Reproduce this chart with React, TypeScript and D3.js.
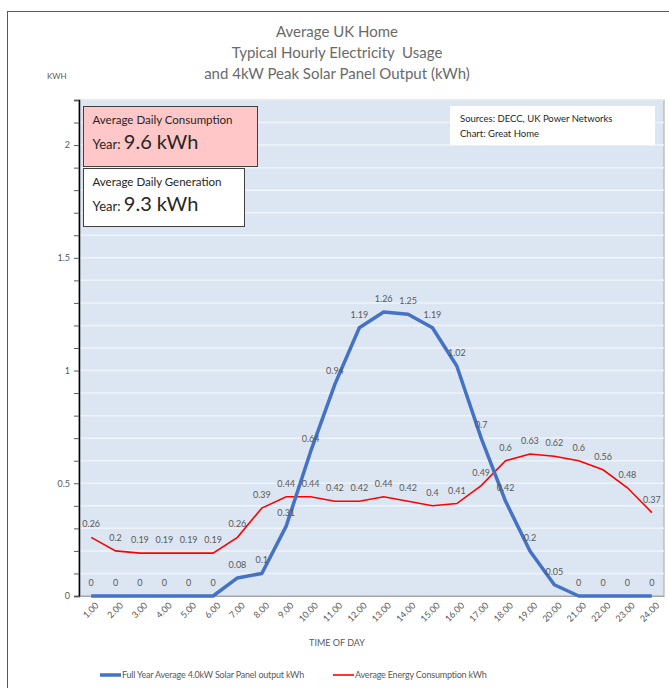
import React, { useEffect, useRef } from 'react';
import * as d3 from 'd3';

// hours of the day
const hours = ['1.00','2.00','3.00','4.00','5.00','6.00','7.00','8.00','9.00','10.00','11.00','12.00',
  '13.00','14.00','15.00','16.00','17.00','18.00','19.00','20.00','21.00','22.00','23.00','24.00'];

const solarOutput = [0, 0, 0, 0, 0, 0, 0.08, 0.1, 0.31, 0.64, 0.94, 1.19, 1.26, 1.25, 1.19, 1.02, 0.7, 0.42, 0.2, 0.05, 0, 0, 0, 0];
const consumption = [0.26, 0.2, 0.19, 0.19, 0.19, 0.19, 0.26, 0.39, 0.44, 0.44, 0.42, 0.42, 0.44, 0.42, 0.4, 0.41, 0.49, 0.6, 0.63, 0.62, 0.6, 0.56, 0.48, 0.37];

const yTicks = [0, 0.5, 1, 1.5, 2];
const titleLines = ['Average UK Home', 'Typical Hourly Electricity  Usage', 'and 4kW Peak Solar Panel Output (kWh)'];

const FONT = 'Lato, "Open Sans", sans-serif';

export default function App() {
  const svgRef = useRef<SVGSVGElement>(null);

  useEffect(() => {
    if (!svgRef.current) return;
    const width = 669;
    const height = 688;
    const svg = d3.select(svgRef.current);
    svg.selectAll('*').remove();

    const margin = { top: 100, right: 5, bottom: 92, left: 79 };
    const innerW = width - margin.left - margin.right;
    const innerH = height - margin.top - margin.bottom;

    // outer chart frame
    svg.append('rect')
      .attr('x', 7.5).attr('y', 11.5)
      .attr('width', 680).attr('height', 700)
      .attr('fill', 'white')
      .attr('stroke', '#595959')
      .attr('stroke-width', 1);

    // title
    titleLines.forEach((t, i) => {
      svg.append('text')
        .attr('x', 337)
        .attr('y', 37 + i * 21)
        .attr('text-anchor', 'middle')
        .attr('font-family', FONT)
        .attr('font-size', 15)
        .attr('fill', '#6a6a6a')
        .attr('xml:space', 'preserve')
        .text(t);
    });

    svg.append('text')
      .attr('x', 47).attr('y', 79)
      .attr('font-family', FONT)
      .attr('font-size', 8)
      .attr('fill', '#595959')
      .text('KWH');

    const g = svg.append('g').attr('transform', `translate(${margin.left},${margin.top})`);

    const x = d3.scaleBand().domain(hours).range([0, innerW]);
    const y = d3.scaleLinear().domain([0, 2.2]).range([innerH, 0]);
    const cx = (i: number) => x(hours[i])! + x.bandwidth() / 2;

    // plot area
    g.append('rect')
      .attr('width', innerW).attr('height', innerH)
      .attr('fill', '#dce6f2')
      .attr('stroke', '#a6a6a6');

    // gridlines every 0.1
    const minor = d3.range(0.1, 2.21, 0.1);
    g.selectAll('line.grid').data(minor).join('line')
      .attr('class', 'grid')
      .attr('x1', 0).attr('x2', innerW)
      .attr('y1', d => y(d)).attr('y2', d => y(d))
      .attr('stroke', '#eef3f9')
      .attr('stroke-width', 1.5);

    // y axis
    const yAxis = g.append('g')
      .call(d3.axisLeft(y).tickValues(d3.range(0, 2.21, 0.1)).tickSize(5)
        .tickFormat(d => (yTicks.some(t => Math.abs(t - +d) < 1e-6) ? String(+(+d).toFixed(1)) : '')));
    yAxis.select('.domain').attr('stroke', '#000').attr('stroke-width', 1.5);
    yAxis.selectAll('.tick line').attr('stroke', '#595959');
    yAxis.selectAll('text')
      .attr('font-family', FONT).attr('font-size', 9).attr('fill', '#595959')
      .attr('x', -9);

    // x axis
    const xAxis = g.append('g')
      .attr('transform', `translate(0,${innerH})`)
      .call(d3.axisBottom(x).tickSize(0));
    xAxis.select('.domain').attr('stroke', '#a6a6a6');
    xAxis.selectAll('text')
      .attr('font-family', FONT).attr('font-size', 9).attr('fill', '#595959')
      .attr('text-anchor', 'end')
      .attr('dy', 0)
      .attr('transform', 'translate(6,8) rotate(-45)');

    svg.append('text')
      .attr('x', 337).attr('y', 646)
      .attr('text-anchor', 'middle')
      .attr('font-family', FONT).attr('font-size', 9).attr('fill', '#595959')
      .text('TIME OF DAY');

    // lines
    const lineGen = d3.line<number>().x((_, i) => cx(i)).y(d => y(d));
    g.append('path').datum(consumption)
      .attr('d', lineGen)
      .attr('fill', 'none').attr('stroke', '#ff0000').attr('stroke-width', 1.6);
    g.append('path').datum(solarOutput)
      .attr('d', lineGen)
      .attr('fill', 'none').attr('stroke', '#4472c4').attr('stroke-width', 3.5)
      .attr('stroke-linejoin', 'round');

    // data labels
    const addLabels = (vals: number[]) => {
      g.append('g').selectAll('text').data(vals).join('text')
        .attr('x', (_, i) => cx(i))
        .attr('y', d => y(d) - 10)
        .attr('text-anchor', 'middle')
        .attr('font-family', FONT).attr('font-size', 9).attr('fill', '#595959')
        .text(d => String(d));
    };
    addLabels(consumption);
    addLabels(solarOutput);

    // info boxes
    const box = (bx: number, by: number, bw: number, bh: number, fill: string, label: string, value: string) => {
      svg.append('rect')
        .attr('x', bx).attr('y', by).attr('width', bw).attr('height', bh)
        .attr('fill', fill).attr('stroke', '#404040').attr('stroke-width', 1);
      svg.append('text')
        .attr('x', bx + 9).attr('y', by + 17)
        .attr('font-family', FONT).attr('font-size', 11.5).attr('fill', '#262626')
        .text(label);
      const t = svg.append('text')
        .attr('x', bx + 9).attr('y', by + 42)
        .attr('font-family', FONT).attr('fill', '#262626');
      t.append('tspan').attr('font-size', 13).text('Year: ');
      t.append('tspan').attr('font-size', 20).text(value);
    };
    box(83.5, 106.5, 174, 60, '#ffc7c7', 'Average Daily Consumption', '9.6 kWh');
    box(83.5, 168.5, 161, 58, '#ffffff', 'Average Daily Generation', '9.3 kWh');

    svg.append('rect')
      .attr('x', 450).attr('y', 106).attr('width', 205).attr('height', 39)
      .attr('fill', '#ffffff');
    ['Sources: DECC, UK Power Networks', 'Chart: Great Home'].forEach((t, i) => {
      svg.append('text')
        .attr('x', 460).attr('y', 122 + i * 15)
        .attr('font-family', FONT).attr('font-size', 9.5).attr('fill', '#262626')
        .text(t);
    });

    // legend
    const legend = [
      { label: 'Full Year Average 4.0kW Solar Panel output kWh', color: '#4472c4', w: 3.5, x: 100 },
      { label: 'Average Energy Consumption kWh', color: '#ff0000', w: 1.6, x: 333 },
    ];
    legend.forEach(l => {
      svg.append('line')
        .attr('x1', l.x).attr('x2', l.x + 21)
        .attr('y1', 675).attr('y2', 675)
        .attr('stroke', l.color).attr('stroke-width', l.w);
      svg.append('text')
        .attr('x', l.x + 22).attr('y', 678)
        .attr('font-family', FONT).attr('font-size', 9).attr('fill', '#595959')
        .attr('letter-spacing', -0.2)
        .text(l.label);
    });
  }, []);

  return (
    <svg ref={svgRef} width={669} height={688}
      style={{ position: 'absolute', left: 0, top: 0, background: 'white' }} />
  );
}
